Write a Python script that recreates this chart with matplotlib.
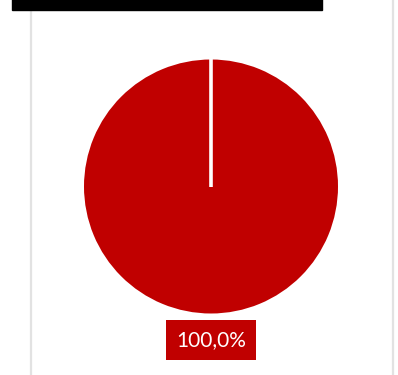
import matplotlib
matplotlib.use("Agg")
import matplotlib.pyplot as plt
import numpy as np

categories = ["Total"]
values = [100.0]
labels = ["100,0%"]
title = "Participação por segmento"

W, H = 398, 375
fig = plt.figure(figsize=(W / 100, H / 100), dpi=100)
fig.patch.set_facecolor("white")
ax = fig.add_axes([0, 0, 1, 1])
ax.set_xlim(0, W)
ax.set_ylim(0, H)
ax.axis("off")

# frame lines
ax.plot([30.5, 30.5], [0, H - 10], color="#e2e2e2", lw=1.6, solid_capstyle="butt")
ax.plot([392.5, 392.5], [0, H], color="#e2e2e2", lw=1.6, solid_capstyle="butt")

# title bar (mostly cut off at the top edge)
ax.add_patch(plt.Rectangle((12, H - 10), 310, 12, color="black", zorder=5))
ax.text(40, H + 4, title, color="white", fontsize=15, fontweight="bold",
        family="Lato", va="baseline", ha="left", zorder=6)

cx, cy, r = 211, H - 186.5, 127
start = 90
ax.pie(values, center=(cx, cy), radius=r, colors=["#C00000"], startangle=start,
       counterclock=False, frame=True, wedgeprops=dict(linewidth=0))
ax.set_xlim(0, W)
ax.set_ylim(0, H)
ax.set_aspect("auto")
ax.axis("off")

ang = np.deg2rad(start)
ax.plot([cx, cx + r * np.cos(ang)], [cy, cy + r * np.sin(ang) + 2], color="white",
        lw=2.6, solid_capstyle="butt", zorder=4)

ax.text(cx, H - 340, labels[0], color="white", fontsize=15, family="Lato",
        ha="center", va="center",
        bbox=dict(boxstyle="square,pad=0.5", fc="#C00000", ec="none"))

fig.savefig("out.png", dpi=100)
